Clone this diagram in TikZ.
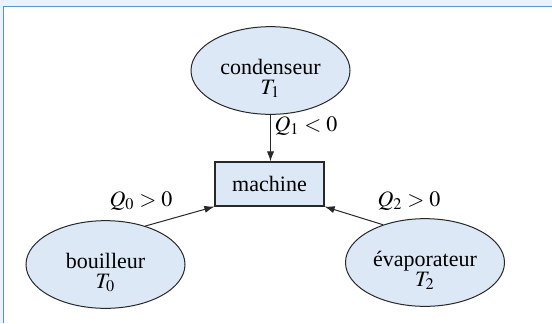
\documentclass[tikz,border=0pt]{standalone}
\usepackage{mathptmx}
\usepackage{fontspec}
\setmainfont{Liberation Serif}
\usetikzlibrary{shapes.geometric,arrows.meta}
\definecolor{nodefill}{RGB}{220,232,246}
\definecolor{bandfill}{RGB}{234,243,251}
\definecolor{bandline}{RGB}{84,152,206}
\definecolor{edgecol}{RGB}{40,40,40}
\newcommand{\twolines}[2]{\raisebox{0pt}[\dimexpr\height+9pt\relax][\depth]{\begin{tabular}{@{}c@{}}#1\\[-2pt]#2\end{tabular}}}
\tikzset{
  source/.style={ellipse,draw=edgecol,fill=nodefill,line width=0.5pt,
    minimum width=79.5pt,minimum height=39.5pt,inner sep=0pt,
    font=\fontsize{11}{12}\selectfont},
  machinebox/.style={rectangle,draw=edgecol,fill=nodefill,line width=0.6pt,
    minimum width=54.5pt,minimum height=22pt,inner sep=0pt,
    font=\fontsize{11}{12}\selectfont},
  heat/.style={draw=edgecol,line width=0.5pt,-{Latex[length=5pt,width=3.6pt]}},
  heatlabel/.style={inner sep=0pt,font=\fontsize{11}{12}\selectfont}
}
\begin{document}
\begin{tikzpicture}[x=0.5pt,y=-0.5pt]
\useasboundingbox (0,0) rectangle (552,323);
\fill[white] (0,0) rectangle (552,323);
% frame
\fill[bandfill] (0,0) rectangle (552,6);
\fill[bandfill] (0,0) rectangle (3,323);
\draw[bandline,line width=0.9pt] (3.5,323) -- (3.5,6.5) -- (552,6.5);
% nodes
\node[source] (cond) at (270.5,70.5) {\twolines{condenseur}{$T_1$}};
\node[machinebox] (mach) at (269.5,184) {machine};
\node[source] (bouil) at (105.5,264.5) {\twolines{bouilleur}{$T_0$}};
\node[source] (evap) at (425,262.5) {\twolines{évaporateur}{$T_2$}};
% labels
\node[heatlabel] (q1) at (306,126) {$Q_1<0$};
\node[heatlabel] (q0) at (141,201) {$Q_0>0$};
\node[heatlabel] (q2) at (409,201) {$Q_2>0$};
% connectors
\draw[heat] (cond.south) -- (cond.south |- mach.north);
\draw[heat] (bouil.44) -- (mach.south west);
\draw[heat] (evap.138) -- (mach.south east);
\end{tikzpicture}
\end{document}
